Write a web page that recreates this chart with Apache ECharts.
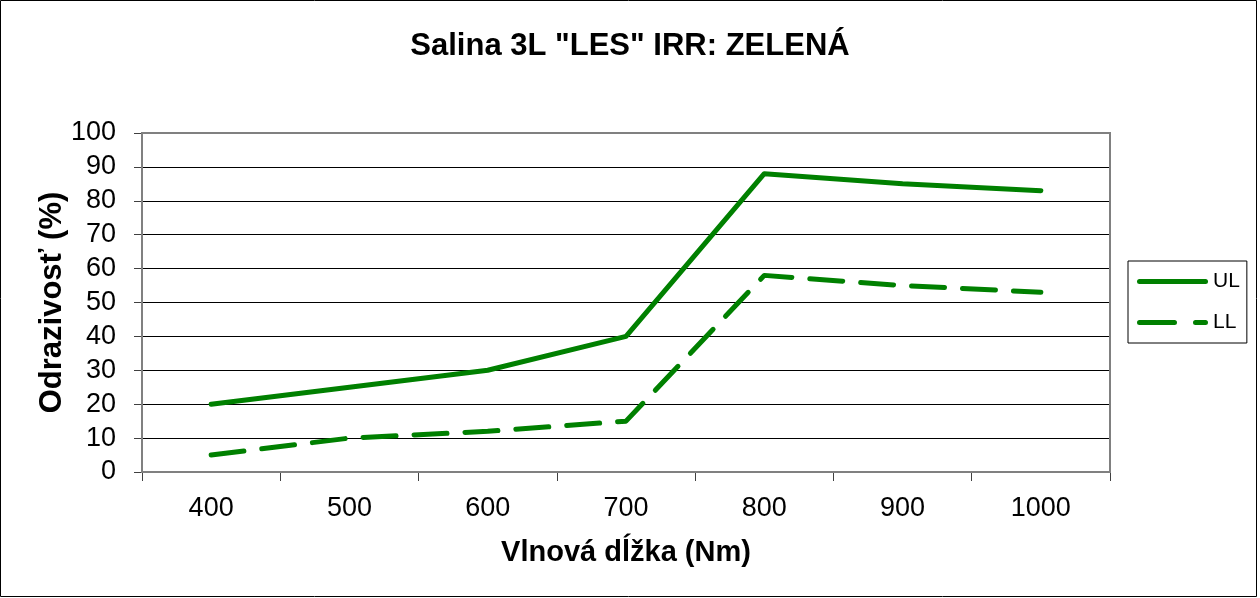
<!DOCTYPE html>
<html>
<head>
<meta charset="utf-8">
<script src="https://cdn.jsdelivr.net/npm/echarts@6/dist/echarts.min.js"></script>
<style>html,body{margin:0;padding:0;background:#fff}#c{width:1260px;height:598px}</style>
</head>
<body>
<div id="c"></div>
<script>
const categories = ['400','500','600','700','800','900','1000'];
const ulValues = [20, 25, 30, 40, 88, 85, 83];
const llValues = [5, 10, 12, 15, 58, 55, 53];
const seriesNames = ['UL', 'LL'];
const yTicks = {min: 0, max: 100, interval: 10};

const font = '"Liberation Sans", Arial, sans-serif';
const green = '#008000';
const solidIcon = 'path://M2.5,0H68.5A2.5,2.5,0,0,1,68.5,5H2.5A2.5,2.5,0,0,1,2.5,0Z';
const dashIcon = 'path://M2.5,0H37.5A2.5,2.5,0,0,1,37.5,5H2.5A2.5,2.5,0,0,1,2.5,0Z M58.5,0H68.5A2.5,2.5,0,0,1,68.5,5H58.5A2.5,2.5,0,0,1,58.5,0Z';
const chart = echarts.init(document.getElementById('c'), null, {renderer: 'canvas'});
chart.setOption({
  animation: false,
  backgroundColor: '#fff',
  graphic: [{
    type: 'rect', shape: {x: 0.5, y: 0.5, width: 1256, height: 596},
    style: {fill: 'none', stroke: '#000', lineWidth: 1}, silent: true, z: -1
  }, {
    type: 'rect', shape: {x: 142, y: 133, width: 968, height: 339},
    style: {fill: 'none', stroke: '#808080', lineWidth: 2}, silent: true, z: 5
  }],
  title: {
    text: 'Salina 3L "LES" IRR: ZELENÁ',
    left: 'center', top: 26,
    textStyle: {fontFamily: font, fontSize: 31, fontWeight: 'bold', color: '#000'}
  },
  legend: {
    orient: 'vertical',
    left: 1128, top: 261,
    padding: [10, 7, 10, 9],
    itemGap: 20,
    itemWidth: 71, itemHeight: 5,
    borderColor: '#000', borderWidth: 1,
    textStyle: {fontFamily: font, fontSize: 21, color: '#000'},
    itemStyle: {color: green, borderWidth: 0},
    data: [{name: seriesNames[0], icon: solidIcon}, {name: seriesNames[1], icon: dashIcon}]
  },
  grid: {left: 142, top: 133, width: 968, height: 339, containLabel: false},
  xAxis: {
    type: 'category',
    data: categories,
    boundaryGap: true,
    name: 'Vlnová dĺžka (Nm)',
    nameLocation: 'middle',
    nameGap: 66,
    nameMoveOverlap: false,
    nameTextStyle: {fontFamily: font, fontSize: 29, fontWeight: 'bold', color: '#000'},
    axisLine: {lineStyle: {color: '#404040', width: 2}},
    axisTick: {show: true, length: 9, inside: false, alignWithLabel: false, lineStyle: {color: '#404040', width: 1}},
    axisLabel: {fontFamily: font, fontSize: 27, color: '#000', margin: 23},
    splitLine: {show: false}
  },
  yAxis: {
    type: 'value',
    min: yTicks.min, max: yTicks.max, interval: yTicks.interval,
    name: 'Odrazivosť (%)',
    nameLocation: 'middle',
    nameGap: 74,
    nameMoveOverlap: false,
    nameRotate: 90,
    nameTextStyle: {fontFamily: font, fontSize: 31, fontWeight: 'bold', color: '#000'},
    axisLine: {show: true, lineStyle: {color: '#404040', width: 2}},
    axisTick: {show: true, length: 8, lineStyle: {color: '#404040', width: 1}},
    axisLabel: {fontFamily: font, fontSize: 27, color: '#000', margin: 26},
    splitLine: {show: true, lineStyle: {color: '#000', width: 1}}
  },
  series: [{
    name: seriesNames[0], type: 'line', data: ulValues,
    symbol: 'none', showSymbol: false,
    lineStyle: {color: green, width: 5, cap: 'round', join: 'round'},
    itemStyle: {color: green}, z: 10
  }, {
    name: seriesNames[1], type: 'line', data: llValues,
    symbol: 'none', showSymbol: false,
    lineStyle: {color: green, width: 5, type: [33, 18], cap: 'round', join: 'round'},
    itemStyle: {color: green}, z: 10
  }]
});
</script>
</body>
</html>
